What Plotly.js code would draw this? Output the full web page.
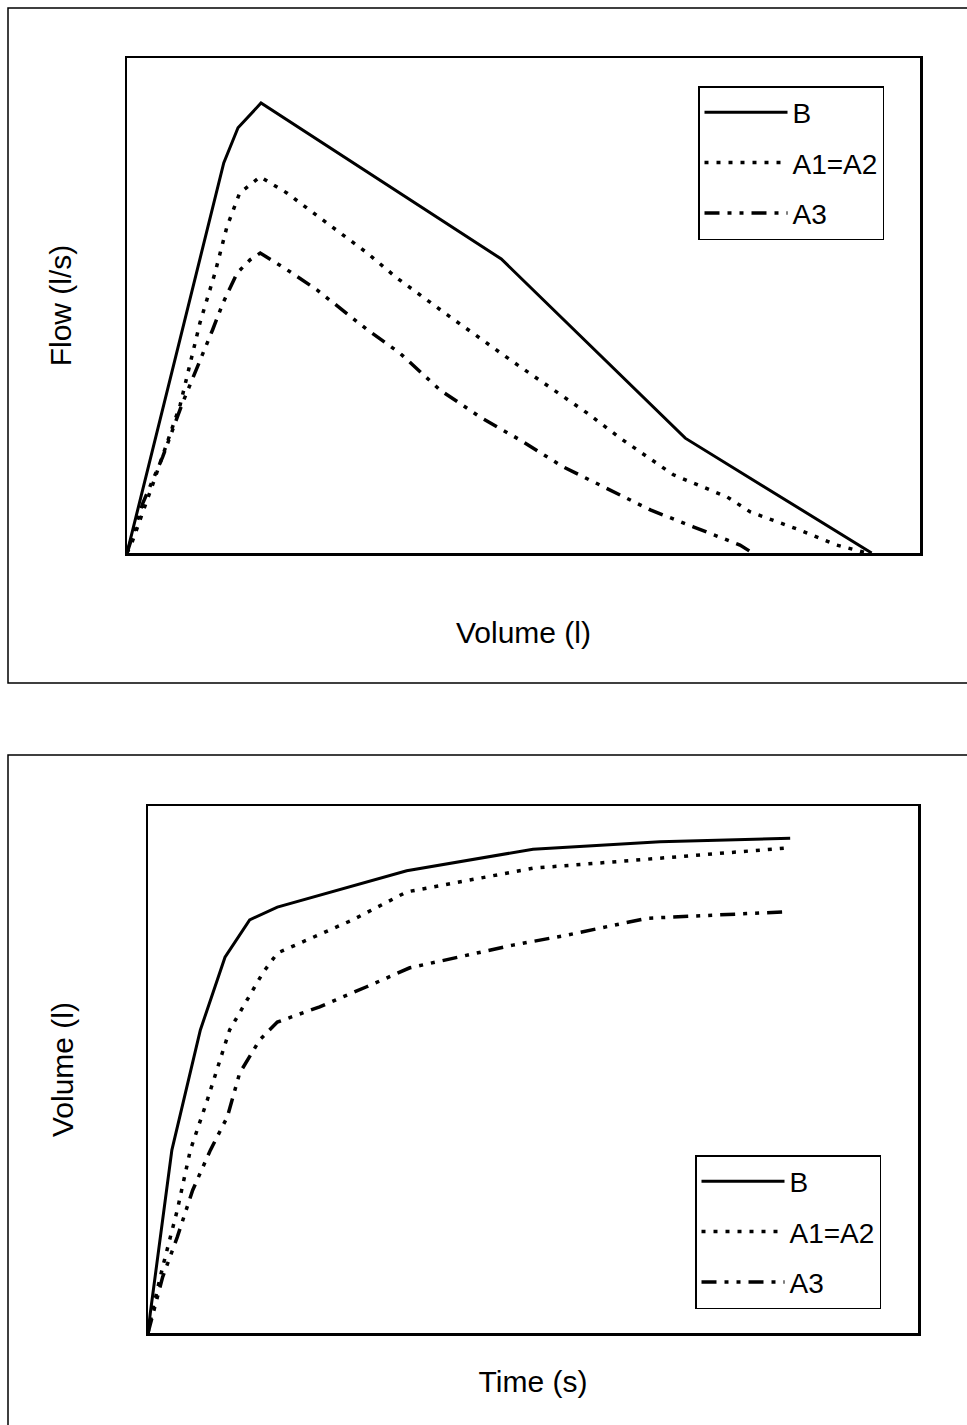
<!DOCTYPE html>
<html>
<head>
<meta charset="utf-8">
<script src="https://cdn.plot.ly/plotly-3.0.1.min.js"></script>
<style>html,body{margin:0;padding:0;background:#fff;}#chart{width:967px;height:1425px;}</style>
</head>
<body>
<div id="chart"></div>
<script>
// ---- Top chart: flow-volume (relative units, % of axis range) ----
var fvB_x = [0, 12.2, 14.0, 16.9, 47.2, 70.4, 93.9];
var fvB_y = [0, 78.8, 85.9, 90.9, 59.4, 23.2, 0];

var fvA12_x = [0, 0.6, 3.3, 6.7, 9.2, 11.1, 12.6, 14.2, 16.8, 20.2, 23.5, 26.9, 30.3, 34.0, 40.4, 48.7, 58.0, 62.2, 68.9, 75.7, 78.6, 84.9, 89.5, 93.3];
var fvA12_y = [0, 2.0, 14.1, 29.9, 46.5, 56.6, 65.9, 72.7, 76.0, 72.7, 68.7, 64.6, 60.6, 55.6, 48.1, 38.6, 28.3, 23.2, 15.8, 11.3, 8.3, 4.6, 1.6, 0];

var fvA3_x = [0, 0.8, 2.0, 4.5, 6.9, 10.8, 12.1, 13.9, 15.5, 16.8, 20.2, 24.0, 30.3, 34.4, 39.5, 44.5, 49.6, 55.0, 60.9, 66.0, 71.4, 77.3, 78.9];
var fvA3_y = [0, 4.0, 10.1, 19.4, 29.9, 45.1, 50.5, 56.6, 59.2, 60.6, 57.2, 53.1, 45.1, 40.4, 32.9, 27.5, 22.8, 17.4, 12.7, 8.7, 5.3, 1.6, 0];

// ---- Bottom chart: volume-time (relative units) ----
var vtB_x = [0, 0.3, 3.1, 6.8, 10.0, 13.2, 16.8, 33.6, 50.0, 66.5, 83.4];
var vtB_y = [0, 3.8, 34.7, 57.5, 71.3, 78.4, 80.8, 87.7, 91.8, 93.2, 93.9];

var vtA12_x = [0, 0.6, 1.9, 3.8, 5.5, 7.7, 10.6, 12.9, 14.9, 16.8, 20.6, 26.6, 33.6, 50.0, 64.8, 82.7];
var vtA12_y = [0, 4.4, 12.5, 23.3, 34.7, 44.2, 57.5, 63.2, 68.3, 72.1, 74.6, 78.4, 83.7, 88.2, 89.9, 92.0];

var vtA3_x = [0, 0.9, 1.9, 3.8, 5.8, 8.1, 10.3, 11.9, 14.5, 16.8, 22.3, 28.4, 34.0, 47.4, 54.4, 64.8, 67.8, 82.5];
var vtA3_y = [0, 4.9, 10.6, 18.2, 27.1, 34.7, 41.0, 49.3, 55.6, 59.0, 61.9, 65.7, 69.3, 73.6, 75.5, 78.7, 78.9, 79.9];

var seriesNames = ['B', 'A1=A2', 'A3'];
var xTitles = ['Volume (l)', 'Time (s)'];
var yTitles = ['Flow (l/s)', 'Volume (l)'];

var FONT = 'Liberation Sans, Arial, sans-serif';
var styles = [
  {color: '#000', width: 3, dash: 'solid'},
  {color: '#000', width: 3.5, dash: '4px,8px'},
  {color: '#000', width: 3.5, dash: '15px,8px,4px,8px,4px,8px'}
];

function tr(x, y, i, xa, ya, leg) {
  return {x: x, y: y, name: seriesNames[i], type: 'scatter', mode: 'lines',
    line: styles[i], xaxis: xa, yaxis: ya, legend: leg, legendgroup: leg + i,
    hoverinfo: 'skip'};
}

var data = [
  tr(fvB_x, fvB_y, 0, 'x', 'y', 'legend'),
  tr(fvA12_x, fvA12_y, 1, 'x', 'y', 'legend'),
  tr(fvA3_x, fvA3_y, 2, 'x', 'y', 'legend'),
  tr(vtB_x, vtB_y, 0, 'x2', 'y2', 'legend2'),
  tr(vtA12_x, vtA12_y, 1, 'x2', 'y2', 'legend2'),
  tr(vtA3_x, vtA3_y, 2, 'x2', 'y2', 'legend2')
];

var W = 967, H = 1425;
function axBase() {
  return {showline: true, mirror: true, linecolor: '#000', linewidth: 2.5,
    showgrid: false, zeroline: false, showticklabels: false, ticks: '', fixedrange: true};
}
var xa = axBase(), ya = axBase(), xa2 = axBase(), ya2 = axBase();
xa.domain = [127 / W, 920 / W]; xa.range = [0, 100]; xa.anchor = 'y';
ya.domain = [1 - 553 / H, 1 - 58 / H]; ya.range = [0, 100]; ya.anchor = 'x';
xa2.domain = [148 / W, 918 / W]; xa2.range = [0, 100]; xa2.anchor = 'y2';
ya2.domain = [1 - 1333 / H, 1 - 806 / H]; ya2.range = [0, 100]; ya2.anchor = 'x2';
var tfont = {family: FONT, size: 30, color: '#000'};
xa.title = {text: xTitles[0], font: tfont, standoff: 68};
ya.title = {text: yTitles[0], font: tfont, standoff: 44};
xa2.title = {text: xTitles[1], font: tfont, standoff: 37};
ya2.title = {text: yTitles[1], font: tfont, standoff: 63};

function legendCfg(x, y) {
  return {x: x, y: y, xanchor: 'left', yanchor: 'top', bordercolor: '#000', borderwidth: 1.5,
    bgcolor: '#fff', font: {family: FONT, size: 28, color: '#000'}, itemwidth: 83,
    tracegroupgap: 11, traceorder: 'grouped'};
}

var frame = {color: '#000', width: 1.5};
var layout = {
  width: W, height: H,
  margin: {l: 0, r: 0, t: 0, b: 0},
  paper_bgcolor: '#fff', plot_bgcolor: '#fff',
  showlegend: true,
  xaxis: xa, yaxis: ya, xaxis2: xa2, yaxis2: ya2,
  legend: legendCfg(698 / W, 1 - 86 / H),
  legend2: legendCfg(695 / W, 1 - 1155 / H),
  shapes: [
    {type: 'path', xref: 'paper', yref: 'paper', layer: 'below',
     path: 'M 1.05,' + (1 - 8 / H) + ' L ' + (8 / W) + ',' + (1 - 8 / H) + ' L ' + (8 / W) + ',' + (1 - 683 / H) + ' L 1.05,' + (1 - 683 / H),
     line: frame},
    {type: 'path', xref: 'paper', yref: 'paper', layer: 'below',
     path: 'M 1.05,' + (1 - 755 / H) + ' L ' + (8 / W) + ',' + (1 - 755 / H) + ' L ' + (8 / W) + ',-0.05',
     line: frame}
  ]
};

Plotly.newPlot('chart', data, layout, {staticPlot: true, displayModeBar: false});
</script>
</body>
</html>
